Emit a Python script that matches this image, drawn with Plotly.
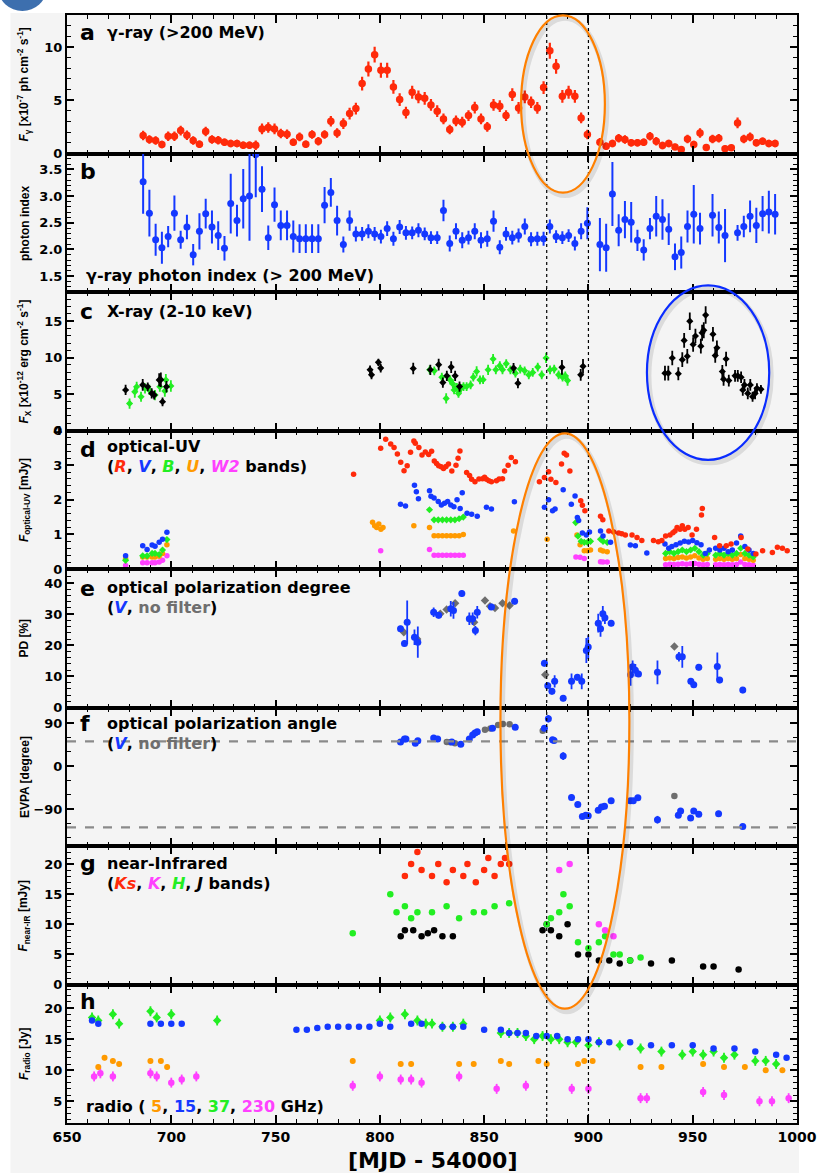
import plotly.graph_objects as go
from plotly.subplots import make_subplots

# ---------------- data ----------------
# (a) gamma-ray flux >200 MeV, 3-day bins  [1e-7 ph cm-2 s-1]
gam_mjd = [686.5, 689.5, 692.5, 695.5, 698.5, 701.5, 704.5, 707.5, 710.5, 713.5,
           716.5, 719.5, 722.5, 725.5, 728.5, 731.5, 734.5, 737.5, 740.5, 743.5,
           746.5, 749.5, 752.5, 755.5, 758.5, 761.5, 764.5, 767.5, 770.5, 773.5,
           776.5, 779.5, 782.5, 785.5, 788.5, 791.5, 794.5, 797.5, 800.5, 803.5,
           806.5, 809.5, 812.5, 815.5, 818.5, 821.5, 824.5, 827.5, 830.5, 833.5,
           836.5, 839.5, 842.5, 845.5, 848.5, 851.5, 854.5, 857.5, 860.5, 863.5,
           866.5, 869.5, 872.5, 875.5, 878.5, 881.5, 884.5, 887.5, 890.5, 893.5,
           896.5, 899.5, 905.5, 908.5, 911.5, 914.5, 917.5, 920.5, 923.5, 926.5,
           929.5, 932.5, 935.5, 938.5, 941.5, 944.5, 947.5, 950.5, 953.5, 956.5,
           959.5, 962.5, 965.5, 968.5, 971.5, 974.5, 977.5, 980.5, 983.5, 986.5,
           989.5]
gam_flux = [1.69, 1.31, 1.22, 0.84, 1.62, 1.62, 2.15, 1.72, 1.22, 0.87,
            2.06, 1.31, 1.25, 1.06, 0.94, 0.94, 0.78, 0.78, 0.78, 2.31,
            2.44, 2.31, 1.87, 1.81, 1.06, 1.56, 0.87, 1.78, 1.15, 1.78,
            3.03, 1.93, 2.81, 3.75, 4.22, 6.56, 7.93, 9.28, 7.81, 7.81,
            6.25, 5.06, 3.84, 5.75, 5.31, 5.18, 4.56, 3.97, 3.25, 2.25,
            3.06, 2.94, 3.56, 4.31, 3.25, 2.50, 4.56, 4.44, 3.56, 5.53,
            4.28, 5.31, 4.81, 4.28, 6.19, 9.65, 8.18, 5.37, 5.75, 5.37,
            3.34, 1.78, 1.06, 0.69, 0.94, 1.43, 1.31, 1.00, 1.00, 1.06,
            1.62, 1.15, 0.75, 0.94, 0.62, 0.37, 1.37, 0.84, 1.93, 0.56,
            1.37, 1.43, 0.44, 0.53, 2.87, 1.37, 1.56, 1.00, 1.15, 0.94,
            0.94]
gam_err = [0.45, 0.40, 0.40, 0.35, 0.45, 0.45, 0.45, 0.45, 0.40, 0.35,
           0.45, 0.40, 0.40, 0.35, 0.35, 0.35, 0.35, 0.35, 0.45, 0.50,
           0.50, 0.50, 0.45, 0.45, 0.35, 0.40, 0.35, 0.40, 0.40, 0.40,
           0.50, 0.45, 0.50, 0.55, 0.55, 0.65, 0.70, 0.75, 0.70, 0.70,
           0.65, 0.60, 0.55, 0.60, 0.60, 0.60, 0.55, 0.55, 0.50, 0.45,
           0.50, 0.50, 0.50, 0.55, 0.50, 0.45, 0.55, 0.55, 0.50, 0.60,
           0.55, 0.60, 0.55, 0.55, 0.60, 0.75, 0.70, 0.60, 0.60, 0.60,
           0.50, 0.45, 0.40, 0.35, 0.35, 0.40, 0.40, 0.35, 0.35, 0.35,
           0.40, 0.40, 0.35, 0.35, 0.30, 0.30, 0.40, 0.35, 0.45, 0.30,
           0.40, 0.40, 0.30, 0.30, 0.50, 0.40, 0.40, 0.35, 0.35, 0.35,
           0.35]

# (b) gamma-ray photon index
idx_mjd = [686.5, 689.5, 692.5, 695.5, 698.5, 701.5, 704.5, 707.5, 710.5, 713.5,
           716.5, 719.5, 722.5, 725.5, 728.5, 731.5, 734.5, 737.5, 740.5, 743.5,
           746.5, 749.5, 752.5, 755.5, 758.5, 761.5, 764.5, 767.5, 770.5, 773.5,
           776.5, 779.5, 782.5, 785.5, 788.5, 791.5, 794.5, 797.5, 800.5, 803.5,
           806.5, 809.5, 812.5, 815.5, 818.5, 821.5, 824.5, 827.5, 830.5, 833.5,
           836.5, 839.5, 842.5, 845.5, 848.5, 851.5, 854.5, 857.5, 860.5, 863.5,
           866.5, 869.5, 872.5, 875.5, 878.5, 881.5, 884.5, 887.5, 890.5, 893.5,
           896.5, 899.5, 905.5, 908.5, 911.5, 914.5, 917.5, 920.5, 923.5, 926.5,
           929.5, 932.5, 935.5, 938.5, 941.5, 944.5, 947.5, 950.5, 953.5, 959.5,
           962.5, 965.5, 971.5, 974.5, 977.5, 980.5, 983.5, 986.5, 989.5]
idx_val = [3.27, 2.68, 2.18, 2.03, 2.24, 2.68, 2.18, 2.42, 1.90, 2.34,
           2.67, 2.42, 2.26, 2.02, 2.86, 2.54, 2.95, 3.00, 3.78, 3.13,
           2.22, 2.84, 2.45, 2.45, 2.24, 2.20, 2.20, 2.20, 2.20, 2.83,
           3.07, 2.54, 2.09, 2.54, 2.29, 2.29, 2.34, 2.29, 2.24, 2.39,
           2.20, 2.42, 2.31, 2.31, 2.36, 2.29, 2.22, 2.22, 2.73, 2.11,
           2.34, 2.17, 2.22, 2.34, 2.17, 2.20, 2.53, 2.04, 2.29, 2.22,
           2.26, 2.43, 2.19, 2.20, 2.20, 2.43, 2.24, 2.22, 2.26, 2.11,
           2.34, 2.49, 2.09, 2.03, 3.04, 2.36, 2.56, 2.51, 2.17, 1.99,
           2.39, 2.62, 2.56, 2.38, 1.86, 1.94, 2.43, 2.66, 2.39, 2.64,
           2.41, 2.26, 2.31, 2.43, 2.62, 2.45, 2.67, 2.70, 2.66]
idx_err = [0.60, 0.44, 0.30, 0.30, 0.20, 0.33, 0.17, 0.23, 0.20, 0.34,
           0.28, 0.31, 0.27, 0.23, 0.56, 0.30, 0.56, 0.84, 0.80, 0.43,
           0.23, 0.32, 0.28, 0.28, 0.30, 0.27, 0.27, 0.27, 0.27, 0.34,
           0.27, 0.28, 0.15, 0.19, 0.14, 0.13, 0.13, 0.13, 0.13, 0.14,
           0.13, 0.13, 0.13, 0.12, 0.13, 0.12, 0.12, 0.12, 0.20, 0.15,
           0.15, 0.15, 0.13, 0.15, 0.15, 0.15, 0.20, 0.13, 0.13, 0.13,
           0.13, 0.15, 0.13, 0.13, 0.13, 0.13, 0.12, 0.12, 0.12, 0.13,
           0.15, 0.30, 0.50, 0.45, 0.60, 0.30, 0.35, 0.38, 0.20, 0.20,
           0.20, 0.38, 0.38, 0.30, 0.25, 0.30, 0.30, 0.55, 0.30, 0.40,
           0.30, 0.50, 0.15, 0.20, 0.30, 0.33, 0.33, 0.40, 0.38]

# (c) X-ray 2-10 keV  [1e-12 erg cm-2 s-1]
xb_mjd = [678.1, 686.3, 688.7, 690.6, 691.8, 694.2, 695.0, 695.8, 697.7, 795.3,
          796.0, 799.3, 800.4, 816.0, 824.2, 828.2, 830.2, 832.1, 834.2, 836.1,
          838.2, 864.1, 866.2, 887.3, 896.3, 897.4, 936.7, 938.3, 940.2, 943.1,
          945.0, 945.9, 947.4, 948.6, 950.2, 951.3, 953.9, 954.5, 955.3, 956.2,
          959.7, 960.8, 961.6, 964.2, 964.8, 966.0, 967.3, 970.3, 971.6, 973.2,
          974.0, 974.8, 976.4, 977.6, 978.7, 979.9, 980.8, 982.7]
xb_flux = [5.56, 6.25, 6.00, 5.10, 4.86, 6.94, 6.97, 3.94, 6.00, 8.33,
           7.64, 9.35, 8.56, 8.50, 8.33, 9.03, 6.57, 7.50, 8.70, 7.50,
           6.02, 8.56, 6.48, 8.66, 7.64, 8.80, 7.87, 7.87, 9.95, 7.78,
           9.72, 12.36, 10.18, 15.00, 11.80, 12.96, 11.57, 13.40, 13.75, 15.83,
           13.20, 10.28, 11.34, 8.10, 7.04, 9.81, 6.85, 7.50, 7.50, 7.31,
           5.56, 6.25, 5.09, 6.25, 4.63, 5.09, 5.79, 5.65]
xb_err = [0.7, 0.8, 0.6, 0.7, 0.6, 0.9, 1.0, 0.6, 0.8, 0.6,
          0.6, 0.5, 0.6, 0.8, 0.7, 0.8, 0.7, 0.7, 0.8, 0.7,
          0.7, 0.7, 0.7, 1.0, 0.8, 1.0, 1.0, 1.0, 1.0, 0.9,
          1.0, 1.0, 1.0, 1.2, 1.0, 1.0, 1.0, 1.1, 1.1, 1.2,
          1.0, 1.0, 1.0, 0.9, 0.9, 1.0, 0.8, 0.8, 0.8, 0.8,
          0.8, 0.8, 0.8, 0.8, 0.7, 0.8, 0.7, 0.6]
xg_mjd = [680.0, 682.5, 683.4, 685.5, 687.4, 689.5, 692.2, 694.5, 696.9, 697.4,
          699.8, 823.9, 826.1, 829.7, 831.8, 833.7, 835.0, 835.6, 836.9, 837.7,
          838.9, 840.1, 841.6, 843.5, 844.8, 846.4, 848.0, 849.5, 851.9, 854.3,
          855.6, 857.5, 858.8, 860.6, 862.6, 865.0, 867.3, 869.4, 871.4, 873.3,
          875.7, 877.6, 879.7, 881.6, 883.6, 885.7, 887.6, 888.9, 890.0]
xg_flux = [3.70, 5.30, 6.00, 4.63, 5.79, 5.56, 4.86, 6.00, 5.42, 6.94,
           6.11, 8.33, 8.19, 7.31, 4.40, 6.94, 6.39, 5.56, 5.93, 5.09,
           5.79, 6.02, 6.02, 6.25, 7.31, 8.10, 6.94, 6.97, 8.33, 9.81,
           8.33, 8.89, 8.33, 9.17, 8.33, 7.87, 8.43, 8.19, 7.64, 7.96,
           8.70, 7.64, 9.95, 8.33, 8.43, 7.64, 7.31, 7.50, 6.85]
xg_err = [0.7, 0.8, 0.7, 0.7, 0.7, 0.7, 0.7, 0.7, 0.8, 0.8,
          0.8, 0.6, 0.6, 0.6, 0.7, 0.6, 0.6, 0.6, 0.6, 0.6,
          0.6, 0.6, 0.6, 0.6, 0.6, 0.7, 0.6, 0.6, 0.7, 0.7,
          0.6, 0.6, 0.6, 0.6, 0.6, 0.6, 0.6, 0.6, 0.6, 0.6,
          0.6, 0.6, 0.7, 0.6, 0.6, 0.6, 0.6, 0.6, 0.7]

# (d) optical-UV fluxes [mJy]
R_mjd = [787.4, 800.4, 802.8, 805.2, 806.8, 808.4, 810.0, 811.6, 813.1, 814.7,
         816.3, 817.0, 818.7, 820.2, 821.8, 823.4, 824.8, 826.1, 827.2, 828.2,
         829.4, 830.5, 831.7, 832.9, 834.5, 836.5, 837.5, 838.4, 841.6, 843.0,
         844.0, 845.6, 847.5, 849.2, 850.2, 851.1, 852.3, 853.5, 855.9, 857.2,
         858.8, 859.8, 861.5, 863.0, 865.0, 876.5, 878.9, 880.9, 882.0, 884.4,
         887.1, 888.4, 889.5, 891.1, 896.3, 897.1, 898.3, 905.8, 906.9, 909.8,
         912.1, 914.5, 916.0, 917.7, 920.9, 923.3, 925.6, 931.2, 933.5, 935.2,
         937.0, 939.1, 940.5, 941.5, 942.5, 943.9, 945.0, 946.2, 947.8, 949.7,
         951.8, 954.2, 954.6, 960.5, 962.9, 966.1, 968.4, 973.2, 976.4, 980.3,
         983.5, 988.2, 990.6, 993.0, 995.3]
R_flux = [2.74, 3.49, 3.75, 3.61, 3.51, 3.32, 3.08, 2.84, 2.98, 3.37,
          3.70, 3.63, 3.51, 3.29, 3.38, 3.31, 3.40, 3.12, 3.05, 2.98,
          2.95, 2.90, 2.96, 3.03, 2.83, 3.00, 3.20, 3.41, 2.79, 2.70,
          2.59, 2.52, 2.60, 2.61, 2.65, 2.59, 2.55, 2.52, 2.55, 2.60,
          2.61, 2.83, 3.00, 3.22, 3.10, 2.52, 2.64, 2.81, 2.59, 2.50,
          3.03, 3.34, 3.29, 2.83, 1.97, 1.84, 1.68, 1.52, 1.42, 1.10,
          1.07, 1.04, 1.02, 0.98, 0.98, 0.91, 0.82, 0.82, 0.79, 0.82,
          0.95, 0.98, 1.05, 1.10, 1.20, 1.15, 1.25, 1.15, 1.20, 0.98,
          1.15, 1.56, 1.75, 0.91, 0.67, 0.67, 0.72, 0.91, 0.58, 0.43,
          0.53, 0.48, 0.63, 0.60, 0.53]
V_mjd = [678.1, 686.3, 688.4, 690.8, 692.2, 694.2, 695.8, 697.9, 809.9, 812.3,
         816.6, 817.5, 818.5, 823.8, 824.5, 826.0, 828.0, 829.5, 831.0, 832.5,
         834.0, 835.5, 837.0, 838.5, 839.5, 841.8, 844.0, 846.7, 851.1, 853.5,
         864.5, 878.9, 880.9, 882.8, 884.0, 887.9, 891.8, 893.6, 894.7, 895.3,
         897.1, 899.0, 900.5, 905.8, 907.0, 910.6, 920.1, 922.5, 928.0, 936.7,
         938.5, 940.0, 942.0, 944.0, 946.0, 948.0, 950.0, 952.0, 954.0, 956.0,
         958.0, 961.0, 963.0, 965.0, 967.0, 969.0, 971.0, 973.0, 975.0, 977.0,
         979.0]
V_flux = [0.38, 0.67, 0.56, 0.69, 0.66, 0.77, 0.86, 1.06, 1.87, 1.82,
          2.42, 2.23, 2.03, 2.26, 2.10, 2.05, 1.95, 1.85, 1.90, 1.95,
          1.85, 1.80, 2.00, 1.75, 2.20, 1.61, 1.58, 1.52, 1.78, 1.73,
          1.94, 1.78, 2.00, 1.68, 1.73, 2.29, 1.87, 2.11, 1.49, 1.40,
          1.04, 0.98, 1.07, 1.10, 0.95, 0.77, 0.69, 0.67, 0.46, 0.72,
          0.60, 0.65, 0.70, 0.75, 0.80, 0.78, 0.82, 0.76, 0.70, 0.45,
          0.55, 0.60, 0.55, 0.60, 0.50, 0.55, 0.75, 0.95, 0.65, 0.55,
          0.45]
B_mjd = [678.1, 686.3, 688.4, 690.8, 692.2, 694.2, 695.8, 697.9, 823.8, 826.0,
         828.0, 830.0, 832.0, 834.0, 836.0, 838.0, 840.0, 893.9, 895.0, 896.5,
         898.0, 899.5, 901.0, 905.8, 907.0, 909.0, 937.0, 939.0, 941.0, 943.0,
         945.0, 947.0, 949.0, 951.0, 953.0, 955.0, 957.0, 961.0, 963.0, 965.0,
         967.0, 969.0, 971.0, 973.0, 975.0, 977.0, 979.0]
B_flux = [0.25, 0.38, 0.38, 0.45, 0.45, 0.42, 0.55, 0.85, 1.71, 1.42,
          1.42, 1.42, 1.42, 1.42, 1.42, 1.45, 1.50, 1.34, 0.95, 0.80,
          0.77, 0.77, 0.80, 0.86, 0.80, 0.77, 0.45, 0.50, 0.45, 0.50,
          0.55, 0.50, 0.55, 0.60, 0.50, 0.40, 0.45, 0.40, 0.45, 0.40,
          0.45, 0.40, 0.45, 0.60, 0.45, 0.40, 0.35]
U_mjd = [678.1, 686.3, 688.4, 690.8, 692.2, 694.2, 695.8, 697.9, 796.5, 797.5,
         798.5, 799.5, 800.5, 801.5, 816.3, 823.8, 826.0, 828.0, 830.0, 832.0,
         834.0, 836.0, 838.0, 840.0, 864.1, 880.2, 894.5, 896.0, 898.0, 899.5,
         901.0, 905.8, 907.0, 909.0, 937.0, 939.0, 941.0, 943.0, 945.0, 947.0,
         949.0, 951.0, 953.0, 955.0, 957.0, 961.0, 963.0, 965.0, 967.0, 969.0,
         971.0, 973.0, 975.0, 977.0, 979.0]
U_flux = [0.30, 0.35, 0.35, 0.35, 0.35, 0.37, 0.45, 0.70, 1.35, 1.25,
          1.20, 1.30, 1.15, 1.20, 1.25, 1.20, 0.96, 0.96, 0.96, 0.96,
          0.96, 0.96, 0.96, 1.00, 1.10, 0.86, 0.98, 0.70, 0.53, 0.53,
          0.55, 0.55, 0.52, 0.50, 0.30, 0.32, 0.30, 0.33, 0.35, 0.32,
          0.35, 0.38, 0.32, 0.28, 0.30, 0.28, 0.30, 0.28, 0.30, 0.28,
          0.30, 0.42, 0.30, 0.28, 0.25]
W2_mjd = [678.1, 686.3, 688.4, 690.8, 692.2, 694.2, 695.8, 697.9, 800.4, 823.8,
          826.0, 828.0, 830.0, 832.0, 834.0, 836.0, 838.0, 840.0, 894.0, 896.0,
          898.0, 905.8, 907.0, 909.0, 937.0, 939.0, 941.0, 943.0, 945.0, 947.0,
          949.0, 951.0, 953.0, 955.0, 957.0, 961.0, 963.0, 965.0, 967.0, 969.0,
          971.0, 973.0, 975.0, 977.0, 979.0]
W2_flux = [0.10, 0.18, 0.18, 0.18, 0.18, 0.20, 0.25, 0.38, 0.53, 0.56,
           0.40, 0.40, 0.40, 0.40, 0.40, 0.40, 0.40, 0.40, 0.35, 0.34,
           0.30, 0.21, 0.20, 0.20, 0.12, 0.14, 0.13, 0.14, 0.15, 0.14,
           0.15, 0.16, 0.14, 0.12, 0.13, 0.12, 0.13, 0.12, 0.13, 0.12,
           0.13, 0.20, 0.13, 0.12, 0.11]

# (e) optical polarization degree [%]
pdV_mjd = [809.9, 811.8, 813.1, 816.6, 818.2, 825.8, 828.2, 834.0, 835.3, 839.3,
           842.9, 844.5, 845.8, 846.7, 853.5, 864.6, 878.9, 880.5, 882.5, 883.8,
           887.9, 891.9, 894.7, 896.8, 899.0, 899.9, 904.7, 905.8, 906.9, 907.9,
           910.9, 920.2, 921.2, 922.5, 924.0, 933.1, 943.4, 945.0, 949.1, 950.5,
           952.9, 961.8, 962.9, 974.0]
pdV_val = [25.3, 20.6, 27.4, 22.6, 21.0, 30.6, 29.6, 31.7, 31.2, 36.6,
           28.5, 28.5, 24.7, 30.6, 32.3, 34.1, 14.2, 7.0, 5.2, 8.4,
           3.0, 8.4, 9.7, 8.4, 18.3, 19.4, 27.1, 25.3, 30.1, 28.8,
           27.1, 10.5, 13.1, 12.0, 10.8, 11.3, 16.3, 16.3, 8.4, 7.3,
           12.9, 13.2, 8.8, 5.6]
pdV_err = [1.0, 1.0, 7.0, 2.5, 5.0, 1.5, 1.0, 2.5, 2.7, 1.0,
           2.0, 2.0, 1.5, 2.0, 1.0, 1.0, 1.0, 1.0, 1.0, 2.0,
           1.0, 2.5, 1.0, 2.5, 4.0, 3.8, 3.0, 2.6, 2.5, 2.0,
           1.0, 3.5, 2.0, 2.0, 1.0, 3.8, 1.5, 3.5, 1.0, 1.0,
           1.0, 4.5, 1.0, 1.0]
pdN_mjd = [811.5, 817.9, 829.0, 832.0, 836.1, 845.2, 850.4, 852.8, 855.2, 858.8,
           862.2, 879.3, 941.2]
pdN_val = [24.2, 22.0, 30.1, 31.5, 33.5, 27.4, 34.4, 32.5, 32.0, 33.5,
           32.8, 10.5, 19.6]

# (f) optical polarization angle [deg]
paV_mjd = [809.9, 811.8, 812.5, 817.0, 818.2, 825.8, 827.7, 834.5, 838.8, 842.9,
           844.5, 845.6, 846.7, 854.0, 864.9, 878.9, 880.8, 882.8, 883.5, 887.9,
           891.9, 894.9, 897.1, 898.7, 899.9, 904.7, 906.3, 907.7, 910.9, 920.1,
           921.5, 923.7, 933.1, 943.1, 944.2, 949.0, 950.5, 952.9, 962.4, 974.0]
paV_val = [51.0, 56.8, 57.0, 48.3, 53.2, 58.9, 56.8, 51.0, 46.1, 56.8,
           65.3, 69.6, 72.4, 79.4, 81.5, 79.4, 99.4, 55.3, 54.0, 21.3,
           -65.3, -80.2, -105.0, -102.8, -103.5, -92.2, -85.1, -83.7, -72.4, -72.4,
           -72.0, -66.0, -112.0, -102.8, -93.6, -108.5, -93.6, -100.7, -99.3, -126.3]
paV_err = [3, 3, 3, 3, 3, 3, 3, 3, 3, 3,
           3, 3, 3, 3, 3, 3, 8, 4, 4, 8,
           6, 3, 4, 3, 3, 3, 3, 3, 3, 4,
           4, 5, 8, 4, 5, 4, 3, 3, 6, 3]
paN_mjd = [832.1, 833.7, 836.0, 850.4, 853.0, 856.7, 859.0, 862.2, 878.1, 941.2]
paN_val = [51.0, 50.0, 48.0, 76.6, 79.0, 86.6, 88.7, 88.0, 74.5, -62.4]
pa_ref = [52.0, -128.0]

# (g) near-infrared fluxes [mJy]
Ks_mjd = [812.0, 815.0, 818.0, 820.0, 825.0, 828.0, 832.0, 835.0, 840.0, 842.0,
          846.0, 850.0, 852.0, 855.0, 858.0, 860.0, 862.0]
Ks_flux = [18.0, 20.0, 22.0, 19.0, 18.0, 20.0, 17.0, 19.0, 18.0, 20.0,
           17.0, 19.0, 21.0, 18.0, 20.0, 21.0, 20.0]
K_mjd = [886.0, 891.0, 905.0, 908.0, 912.0]
K_flux = [19.0, 20.0, 10.0, 9.0, 8.0]
Hb_mjd = [787.0, 805.0, 808.0, 812.0, 815.0, 818.0, 825.0, 832.0, 838.0, 845.0,
          850.0, 855.0, 862.0, 880.0, 882.0, 886.0, 888.0, 891.0, 895.0, 900.0,
          905.0, 908.0, 912.0, 915.0, 920.0, 925.0]
Hb_flux = [8.5, 15.0, 12.0, 13.0, 11.0, 12.0, 12.0, 13.0, 11.0, 12.0,
           12.0, 13.0, 13.5, 10.0, 11.0, 12.0, 15.0, 13.0, 7.0, 6.0,
           7.0, 8.0, 5.0, 5.0, 4.0, 4.5]
J_mjd = [810.0, 812.0, 816.0, 820.0, 823.0, 826.0, 830.0, 835.0, 878.0, 880.0,
         882.0, 886.0, 890.0, 895.0, 900.0, 905.0, 910.0, 915.0, 920.0, 930.0,
         940.0, 955.0, 960.0, 972.0]
J_flux = [8.0, 9.0, 9.0, 8.0, 8.5, 9.0, 8.0, 8.0, 9.0, 10.0,
          9.0, 8.0, 10.0, 5.0, 5.0, 4.0, 4.0, 3.5, 4.0, 3.5,
          4.0, 3.0, 3.0, 2.5]

# (h) radio fluxes [Jy]
r37_mjd = [662.0, 665.0, 672.0, 675.0, 690.0, 693.0, 700.0, 722.0, 800.0, 805.0,
           812.0, 818.0, 822.0, 825.0, 830.0, 835.0, 840.0, 858.0, 862.0, 866.0,
           870.0, 874.0, 878.0, 882.0, 886.0, 890.0, 894.0, 900.0, 905.0, 915.0,
           925.0, 935.0, 945.0, 950.0, 955.0, 960.0, 965.0, 970.0, 980.0, 985.0,
           990.0]
r37_flux = [18.5, 18.0, 19.0, 17.5, 19.5, 18.5, 19.0, 18.0, 18.0, 18.5,
            19.0, 18.0, 17.5, 17.5, 17.0, 17.0, 17.5, 16.0, 16.0, 16.0,
            15.5, 15.0, 15.5, 15.0, 15.0, 14.5, 14.5, 14.0, 14.5, 14.0,
            13.5, 13.0, 12.5, 13.0, 12.5, 13.0, 12.0, 12.5, 11.5, 11.5,
            11.0]
r15_mjd = [662.0, 665.0, 690.0, 695.0, 700.0, 705.0, 760.0, 765.0, 770.0, 775.0,
           780.0, 785.0, 790.0, 795.0, 800.0, 805.0, 815.0, 820.0, 830.0, 835.0,
           840.0, 850.0, 858.0, 862.0, 866.0, 870.0, 875.0, 880.0, 885.0, 890.0,
           895.0, 900.0, 905.0, 910.0, 920.0, 930.0, 940.0, 950.0, 960.0, 970.0,
           980.0, 990.0, 995.0]
r15_flux = [18.0, 17.5, 17.5, 17.5, 17.5, 17.5, 16.5, 16.5, 16.8, 17.0,
            17.0, 17.0, 17.0, 17.0, 17.5, 17.0, 17.5, 17.5, 17.0, 17.0,
            17.0, 16.5, 16.5, 16.0, 16.0, 16.0, 15.5, 15.5, 15.5, 15.0,
            15.0, 15.0, 14.5, 14.5, 14.5, 14.0, 14.0, 14.0, 13.5, 13.5,
            13.0, 12.5, 12.0]
r5_mjd = [665.0, 668.0, 672.0, 675.0, 690.0, 695.0, 698.0, 787.0, 810.0, 815.0,
          838.0, 845.0, 858.0, 862.0, 876.0, 880.0, 895.0, 898.0, 902.0, 925.0,
          935.0, 955.0, 965.0, 975.0, 985.0, 993.0]
r5_flux = [10.5, 12.0, 11.5, 11.0, 11.5, 11.5, 10.5, 11.5, 11.0, 11.0,
           11.0, 11.0, 11.5, 11.0, 11.5, 11.0, 11.0, 11.5, 11.5, 10.5,
           10.5, 11.0, 10.5, 10.5, 10.0, 10.0]
r230_mjd = [663.0, 666.0, 672.0, 690.0, 693.0, 700.0, 705.0, 712.0, 787.0, 800.0,
            810.0, 815.0, 820.0, 838.0, 856.0, 870.0, 892.0, 900.0, 925.0, 928.0,
            955.0, 965.0, 982.0, 988.0, 996.0]
r230_flux = [9.0, 9.5, 9.0, 9.5, 9.0, 8.0, 8.5, 9.0, 7.5, 9.0,
             8.5, 8.5, 8.0, 9.0, 7.0, 7.5, 7.0, 7.0, 5.5, 5.5,
             6.5, 6.0, 5.0, 5.0, 5.5]

flare_days = [880, 900]
x_ticks = [650, 700, 750, 800, 850, 900, 950, 1000]

# ---------------- colours / fonts ----------------
RED, BLUE, GREEN = "#ff2a0a", "#1438ff", "#22ee22"
ORANGE, MAGENTA, GREY, BLACK = "#ff9a00", "#ff40ff", "#6e6e6e", "#000000"
TXT = "DejaVu Sans"
AX = "Liberation Sans"

# ---------------- geometry (pixels) ----------------
W, H = 825, 1173
L, R, T, B = 67, 803, 8, 1123
NP = 8
PH = (B - T) / NP


def fx(p):
    return (p - L) / (R - L)


def fy(p):
    return (B - p) / (B - T)


fig = make_subplots(rows=NP, cols=1, shared_xaxes=True, vertical_spacing=0)


def pts(row, x, y, color, size=7, err=None, symbol="circle", ethick=1.8):
    kw = {}
    if err is not None:
        kw["error_y"] = dict(type="data", array=err, visible=True,
                             thickness=ethick, width=0, color=color)
    fig.add_trace(go.Scatter(x=x, y=y, mode="markers",
                             marker=dict(color=color, size=size, symbol=symbol,
                                         line=dict(width=0)),
                             showlegend=False, hoverinfo="skip", **kw),
                  row=row, col=1)


pts(1, gam_mjd, gam_flux, RED, 7.5, gam_err, ethick=2.2)
pts(2, idx_mjd, idx_val, BLUE, 7, idx_err, ethick=2)
pts(3, xg_mjd, xg_flux, GREEN, 5.5, xg_err, "diamond")
pts(3, xb_mjd, xb_flux, BLACK, 5.5, xb_err, "diamond")
pts(4, W2_mjd, W2_flux, MAGENTA, 5.5)
pts(4, U_mjd, U_flux, ORANGE, 5.5)
pts(4, B_mjd, B_flux, GREEN, 5.5, symbol="diamond")
pts(4, V_mjd, V_flux, BLUE, 5.5)
pts(4, R_mjd, R_flux, RED, 5.5)
pts(5, pdN_mjd, pdN_val, GREY, 6.5, symbol="diamond")
pts(5, pdV_mjd, pdV_val, BLUE, 7, pdV_err)
pts(6, paN_mjd, paN_val, GREY, 6.5)
pts(6, paV_mjd, paV_val, BLUE, 7, paV_err)
pts(7, J_mjd, J_flux, BLACK, 6.5)
pts(7, Hb_mjd, Hb_flux, GREEN, 6.5)
pts(7, K_mjd, K_flux, MAGENTA, 6.5)
pts(7, Ks_mjd, Ks_flux, RED, 6.5)
pts(8, r230_mjd, r230_flux, MAGENTA, 6.5, [0.8] * len(r230_mjd))
pts(8, r5_mjd, r5_flux, ORANGE, 6, [0.4] * len(r5_mjd))
pts(8, r37_mjd, r37_flux, GREEN, 6.5, [0.8] * len(r37_mjd), "diamond")
pts(8, r15_mjd, r15_flux, BLUE, 6.5)

# ---------------- axes ----------------
y_setup = [
    dict(range=[0, 13], dtick=5, minor=1),
    dict(range=[1.2, 3.8], dtick=0.5, minor=0.1, fmt=".1f"),
    dict(range=[0, 19], dtick=5, minor=1),
    dict(range=[0, 4], dtick=1, minor=0.2),
    dict(range=[0, 44.5], dtick=10, minor=2),
    dict(range=[-167, 123], dtick=90, minor=30),
    dict(range=[0, 23], dtick=5, minor=1),
    dict(range=[1.5, 23.8], dtick=5, minor=1),
]
for i, ys in enumerate(y_setup):
    top = T + i * PH
    bot = top + PH
    fig.update_yaxes(
        row=i + 1, col=1, domain=[fy(bot), fy(top)], range=ys["range"],
        tick0=0, dtick=ys["dtick"], tickformat=ys.get("fmt", ""),
        ticks="inside", ticklen=7, tickwidth=1.5, tickcolor=BLACK,
        minor=dict(dtick=ys["minor"], tick0=0, ticks="inside", ticklen=4,
                   tickwidth=1, tickcolor=BLACK),
        showline=True, linewidth=2, linecolor=BLACK, mirror="allticks",
        showgrid=False, zeroline=False,
        tickfont=dict(family=TXT, size=13, color=BLACK, weight="bold"),
    )
    fig.update_xaxes(
        row=i + 1, col=1, range=[650, 1000], tickvals=x_ticks,
        ticks="inside", ticklen=8, tickwidth=1.5, tickcolor=BLACK,
        minor=dict(dtick=10, tick0=650, ticks="inside", ticklen=4,
                   tickwidth=1, tickcolor=BLACK),
        showline=True, linewidth=2, linecolor=BLACK, mirror="allticks",
        showgrid=False, zeroline=False, showticklabels=(i == NP - 1),
        tickfont=dict(family=TXT, size=14, color=BLACK, weight="bold"),
    )

# reference lines in EVPA panel
for ref in pa_ref:
    fig.add_shape(type="line", xref="x6 domain", yref="y6", x0=0, x1=1,
                  y0=ref, y1=ref, line=dict(color="#8a8a8a", width=2.2, dash="dash"))

# flare markers through all panels
for d in flare_days:
    fig.add_shape(type="line", xref="x", yref="paper", x0=d, x1=d, y0=0, y1=1,
                  line=dict(color=BLACK, width=1.2, dash="dot"))

# ---------------- background ----------------
fig.add_shape(type="rect", xref="paper", yref="paper", layer="below",
              x0=fx(10), x1=fx(805), y0=fy(H + 5), y1=fy(6),
              fillcolor="#f4f4f4", line=dict(width=0))
fig.add_shape(type="circle", xref="paper", yref="paper", layer="below",
              x0=fx(-2), x1=fx(46), y0=fy(4), y1=fy(-40),
              fillcolor="#3d6fae", line=dict(width=0))

# ---------------- ellipses ----------------
ellipses = [((524.8, 8.3, 609.3, 186.7), "#ff8000"),
            ((651.7, 280.0, 775.0, 455.7), "#0a2cff"),
            ((504.0, 429.0, 634.0, 1008.0), "#ff8000")]
for (x0, y0, x1, y1), col in ellipses:
    fig.add_shape(type="circle", xref="paper", yref="paper",
                  x0=fx(x0 + 2), x1=fx(x1 + 2), y0=fy(y1 + 3), y1=fy(y0 + 3),
                  line=dict(color="rgba(0,0,0,0.10)", width=5))
    fig.add_shape(type="circle", xref="paper", yref="paper",
                  x0=fx(x0), x1=fx(x1), y0=fy(y1), y1=fy(y0),
                  line=dict(color=col, width=2.2))


# ---------------- text ----------------
def label(xp, yp, text, size=16, anchor="left", color=BLACK, family=TXT, angle=0,
          yanchor="middle"):
    fig.add_annotation(xref="paper", yref="paper", x=fx(xp), y=fy(yp), text=text,
                       showarrow=False, xanchor=anchor, yanchor=yanchor,
                       textangle=angle, borderpad=0,
                       font=dict(family=family, size=size, color=color, weight="bold"))


def c(col, s, it=True):
    return f"<span style='color:{col}'>{'<i>' + s + '</i>' if it else s}</span>"


letters = ["a", "b", "c", "d", "e", "f", "g", "h"]
letter_y = [26, 165, 306, 445, 585, 721, 862, 1001]
for l, yv in zip(letters, letter_y):
    label(79, yv, l, size=22)

label(106, 26, "γ-ray (>200 MeV)")
label(85, 270, "γ-ray photon index (> 200 MeV)")
label(106, 306, "X-ray (2-10 keV)")
label(106, 442, "optical-UV")
label(106, 462, "(" + c(RED, "R") + ", " + c(BLUE, "V") + ", " + c(GREEN, "B") + ", "
      + c(ORANGE, "U") + ", " + c(MAGENTA, "W2") + " bands)")
label(106, 584, "optical polarization degree")
label(106, 604, "(" + c(BLUE, "V") + ", " + c(GREY, "no filter", False) + ")")
label(106, 721, "optical polarization angle")
label(106, 741, "(" + c(BLUE, "V") + ", " + c(GREY, "no filter", False) + ")")
label(106, 862, "near-Infrared")
label(106, 882, "(" + c(RED, "Ks") + ", " + c(MAGENTA, "K") + ", " + c(GREEN, "H") + ", "
      + c(BLACK, "J") + " bands)")
label(85, 1106, "radio ( " + c(ORANGE, "5", False) + ", " + c(BLUE, "15", False) + ", "
      + c(GREEN, "37", False) + ", " + c(MAGENTA, "230", False) + " GHz)")

ytitles = ["<i>F</i><sub>γ</sub> [x10<sup>-7</sup> ph cm<sup>-2</sup> s<sup>-1</sup>]",
           "photon index",
           "<i>F</i><sub>X</sub> [x10<sup>-12</sup> erg cm<sup>-2</sup> s<sup>-1</sup>]",
           "<i>F</i><sub>optical-UV</sub> [mJy]",
           "PD [%]",
           "EVPA [degree]",
           "<i>F</i><sub>near-IR</sub> [mJy]",
           "<i>F</i><sub>radio</sub> [Jy]"]
for i, t in enumerate(ytitles):
    label(24, T + (i + 0.5) * PH, t, size=12, anchor="center", family=AX, angle=-90)

label((L + R) / 2, 1174, "[MJD - 54000]", size=22, anchor="center", yanchor="bottom")

fig.update_layout(
    width=W, height=H,
    margin=dict(l=L, r=W - R, t=T, b=H - B),
    paper_bgcolor="white", plot_bgcolor="#f6f6f6",
    showlegend=False,
)

fig.write_html("out.html")
